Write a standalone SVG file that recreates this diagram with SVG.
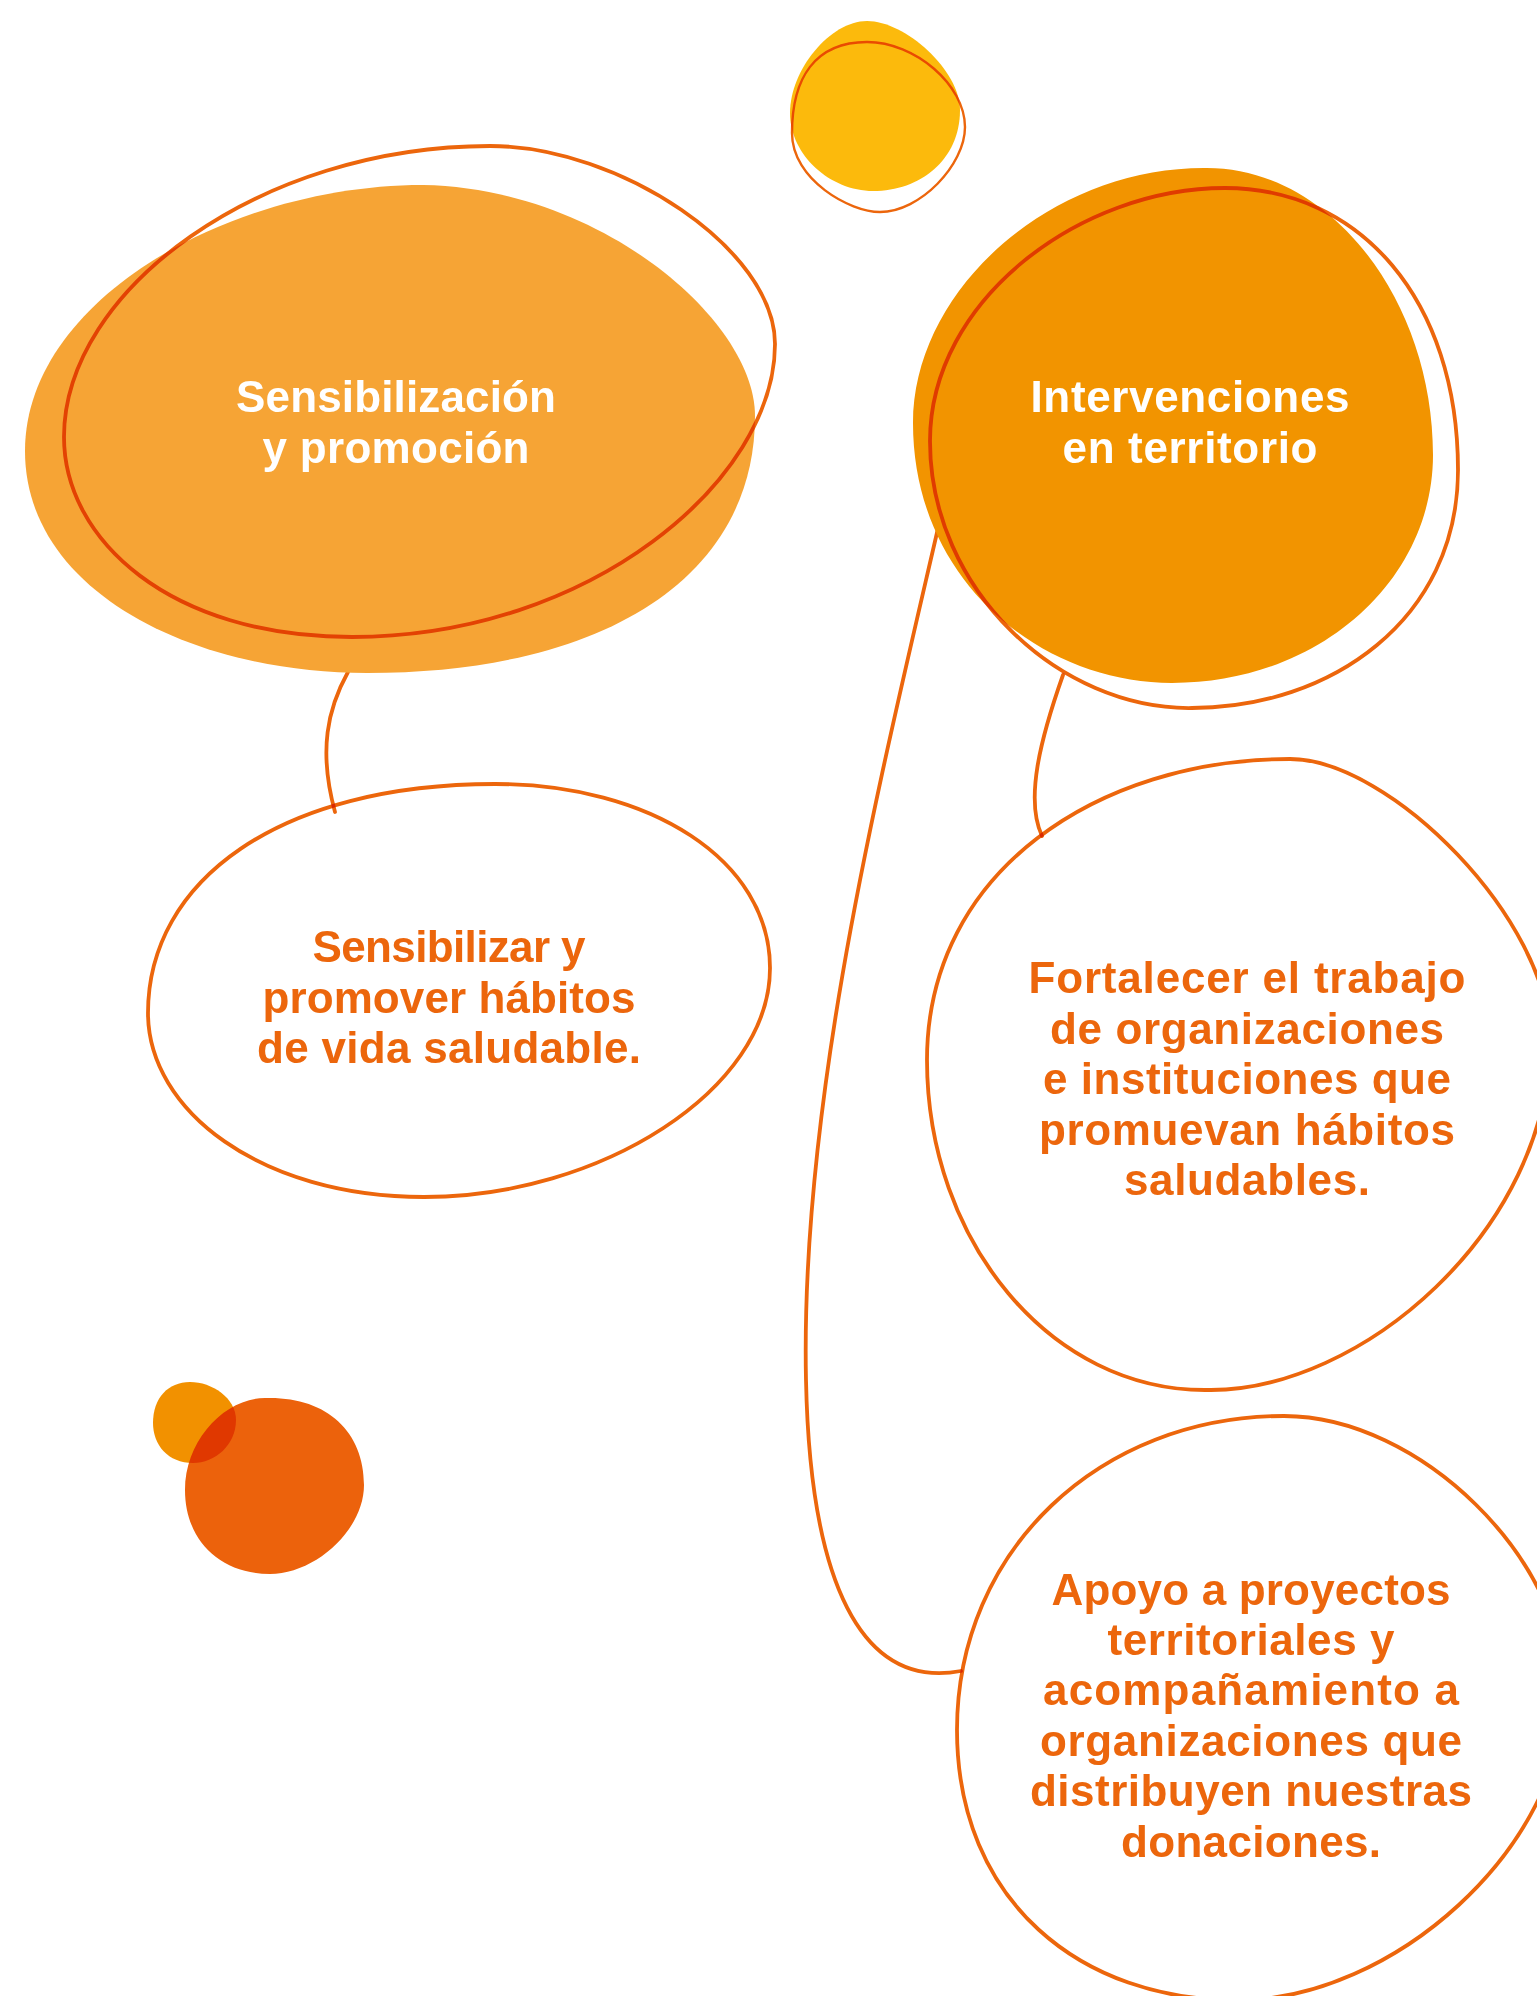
<svg xmlns="http://www.w3.org/2000/svg" width="1537" height="1996" viewBox="0 0 1537 1996">
<style>
.ln{fill:none;stroke:#EC660C;stroke-width:3.8;mix-blend-mode:multiply;stroke-linecap:round}
.thin{stroke-width:2.4}
.mul{mix-blend-mode:multiply}
.t{font-family:"Liberation Sans",Arial,sans-serif;font-weight:700;font-size:44px;text-anchor:middle}
.w{fill:#FFFFFF}
.o{fill:#EC660C}
</style>
<rect x="0" y="0" width="1537" height="1996" fill="#FFFFFF"/>

<g id="deco-top">
<path d="M867,21 C905,21 960,70 960,110 C960,160 920,191 873,191 C830,191 790,155 790,113 C790,70 830,21 867,21 Z" fill="#FCBA0C"/>
<path class="ln thin" d="M867,42 C915,42 965,85 965,127 C965,165 920,212 880,212 C850,212 792,180 792,133 C792,78 815,42 867,42 Z"/>
</g>

<g id="deco-bottom">
<path d="M190,1382 C212,1382 236,1398 236,1420 C236,1445 215,1463 193,1463 C168,1463 153,1445 153,1423 C153,1398 168,1382 190,1382 Z" fill="#F29100"/>
<path class="mul" d="M265,1398 C325,1396 364,1430 364,1485 C364,1530 315,1574 270,1574 C220,1574 185,1540 185,1490 C185,1440 225,1398 265,1398 Z" fill="#EC620C"/>
</g>

<g id="connectors">
<path class="ln" d="M348,672 C328,708 318,750 335,812"/>
<path class="ln" d="M1063,675 C1040,740 1025,800 1042,836"/>
<path class="ln" d="M939,524 C880,780 800,1100 806,1380 C810,1580 860,1690 961,1671"/>
</g>

<g id="node-sensibilizacion">
<path d="M423,185 C600,188 755,320 755,416 C755,580 600,673 367,673 C190,673 25,590 25,451 C25,300 230,185 423,185 Z" fill="#F6A435"/>
<path class="ln" d="M490,146 C620,146 775,250 775,344 C775,480 590,637 352,637 C170,637 64,540 64,437 C64,290 260,146 490,146 Z"/>
<text class="t w"><tspan x="396" y="412" textLength="320" lengthAdjust="spacing">Sensibilización</tspan><tspan x="396" y="463" textLength="267" lengthAdjust="spacing">y promoción</tspan></text>
</g>

<g id="node-intervenciones">
<path d="M1204,168 C1330,166 1433,300 1433,455 C1433,580 1320,683 1172,683 C1040,683 913,580 913,423 C913,290 1050,168 1204,168 Z" fill="#F29400"/>
<path class="ln" d="M1225,188 C1360,188 1458,300 1458,470 C1458,620 1330,708 1192,708 C1060,710 930,590 930,441 C930,300 1080,188 1225,188 Z"/>
<text class="t w"><tspan x="1190" y="412" textLength="319" lengthAdjust="spacing">Intervenciones</tspan><tspan x="1190" y="463" textLength="255" lengthAdjust="spacing">en territorio</tspan></text>
</g>

<g id="node-sensibilizar">
<path class="ln" d="M495,784 C650,784 770,860 770,968 C770,1090 600,1197 424,1197 C260,1197 148,1110 148,1013 C148,880 280,784 495,784 Z"/>
<text class="t o"><tspan x="449" y="962" textLength="273" lengthAdjust="spacing">Sensibilizar y</tspan><tspan x="449" y="1012.5" textLength="373" lengthAdjust="spacing">promover hábitos</tspan><tspan x="449" y="1063" textLength="384" lengthAdjust="spacing">de vida saludable.</tspan></text>
</g>

<g id="node-fortalecer">
<path class="ln" d="M1290,759 C1390,759 1550,920 1550,1040 C1550,1230 1360,1392 1208,1390 C1050,1392 927,1240 927,1060 C927,870 1100,759 1290,759 Z"/>
<text class="t o"><tspan x="1247" y="993" textLength="437" lengthAdjust="spacing">Fortalecer el trabajo</tspan><tspan x="1247" y="1043.5" textLength="394" lengthAdjust="spacing">de organizaciones</tspan><tspan x="1247" y="1094" textLength="408" lengthAdjust="spacing">e instituciones que</tspan><tspan x="1247" y="1144.5" textLength="416" lengthAdjust="spacing">promuevan hábitos</tspan><tspan x="1247" y="1195" textLength="246" lengthAdjust="spacing">saludables.</tspan></text>
</g>

<g id="node-apoyo">
<path class="ln" d="M1284,1416 C1420,1416 1565,1560 1565,1690 C1565,1850 1390,2000 1240,2000 C1080,2002 957,1900 957,1730 C957,1550 1100,1416 1284,1416 Z"/>
<text class="t o"><tspan x="1251" y="1605" textLength="399" lengthAdjust="spacing">Apoyo a proyectos</tspan><tspan x="1251" y="1655" textLength="287" lengthAdjust="spacing">territoriales y</tspan><tspan x="1251" y="1705" textLength="416" lengthAdjust="spacing">acompañamiento a</tspan><tspan x="1251" y="1755.5" textLength="422" lengthAdjust="spacing">organizaciones que</tspan><tspan x="1251" y="1806" textLength="442" lengthAdjust="spacing">distribuyen nuestras</tspan><tspan x="1251" y="1856.5" textLength="260" lengthAdjust="spacing">donaciones.</tspan></text>
</g>
</svg>
